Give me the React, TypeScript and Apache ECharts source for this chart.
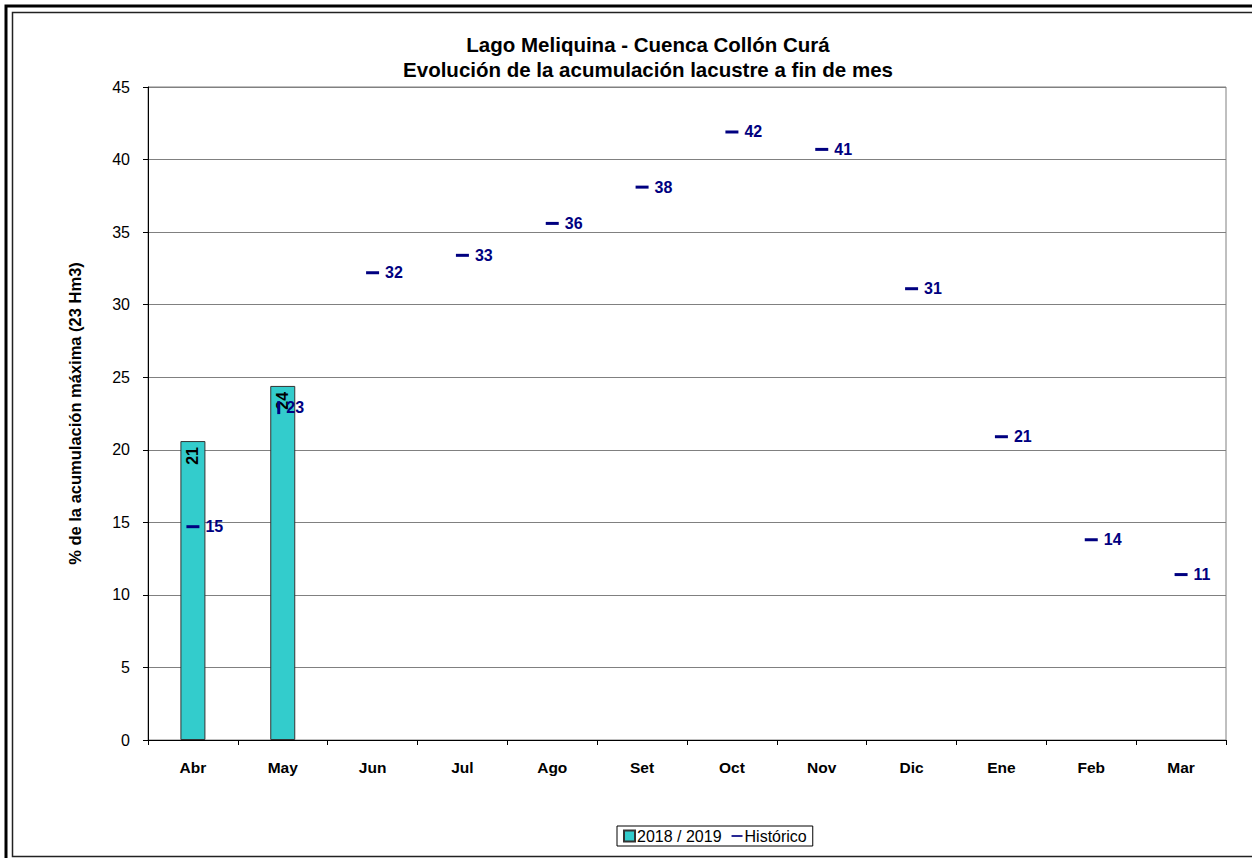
import React, { useEffect, useRef } from "react";
import * as echarts from "echarts";

const categories = ["Abr", "May", "Jun", "Jul", "Ago", "Set", "Oct", "Nov", "Dic", "Ene", "Feb", "Mar"];
const season20182019: (number | null)[] = [20.6, 24.4, null, null, null, null, null, null, null, null, null, null];
const historico: number[] = [14.7, 22.7, 32.2, 33.4, 35.6, 38.1, 41.9, 40.7, 31.1, 20.9, 13.8, 11.4];
const yTicks = { min: 0, max: 45, interval: 5 };
const titleLines = ["Lago Meliquina - Cuenca Collón Curá", "Evolución de la acumulación lacustre a fin de mes"];
const yAxisName = "% de la acumulación máxima (23 Hm3)";
const seriesNames = ["2018 / 2019", "Histórico"];

const FONT = "'Liberation Sans', Arial, Helvetica, sans-serif";
const NAVY = "#000080";

export default function App() {
  const ref = useRef<HTMLDivElement>(null);
  useEffect(() => {
    if (!ref.current) return;
    const chart = echarts.init(ref.current, undefined, { renderer: "svg" });
    chart.setOption({
      animation: false,
      backgroundColor: "#ffffff",
      textStyle: { fontFamily: FONT },
      graphic: [
        {
          type: "rect",
          shape: { x: 6, y: 6, width: 1262, height: 870 },
          style: { fill: "none", stroke: "#000", lineWidth: 3 },
          silent: true,
        },
        {
          type: "rect",
          shape: { x: 12.5, y: 12.5, width: 1260, height: 844 },
          style: { fill: "none", stroke: "#222", lineWidth: 1.5 },
          silent: true,
        },
        {
          type: "text",
          x: 648,
          y: 32,
          style: {
            text: titleLines.join("\n"),
            font: `bold 20.5px ${FONT}`,
            fill: "#000",
            textAlign: "center",
            textVerticalAlign: "top",
            lineHeight: 25,
          },
          silent: true,
        },
      ],
      grid: {
        left: 148,
        right: 1252 - 1226,
        top: 87,
        bottom: 858 - 740,
        show: true,
        borderColor: "#808080",
        borderWidth: 1,
        containLabel: false,
      },
      legend: {
        left: 617,
        top: 826,
        orient: "horizontal",
        borderColor: "#000",
        borderWidth: 1,
        padding: [2, 6, 2, 6],
        itemGap: 10,
        itemWidth: 11,
        itemHeight: 11,
        textStyle: { fontFamily: FONT, fontSize: 16, color: "#000", padding: [0, 0, 0, -3] },
        data: [
          { name: seriesNames[0], icon: "rect" },
          {
            name: seriesNames[1],
            icon: "path://M0,0L0,0M0,4.5L13,4.5L13,6.5L0,6.5ZM0,11L0,11",
          },
        ],
      },
      xAxis: {
        type: "category",
        data: categories,
        axisLine: { lineStyle: { color: "#000", width: 1 } },
        axisTick: { show: true, alignWithLabel: false, length: 5, lineStyle: { color: "#000" } },
        axisLabel: { fontFamily: FONT, fontSize: 15.5, fontWeight: "bold", color: "#000", margin: 19 },
        splitLine: { show: false },
      },
      yAxis: {
        type: "value",
        min: yTicks.min,
        max: yTicks.max,
        interval: yTicks.interval,
        name: yAxisName,
        nameLocation: "middle",
        nameGap: 65,
        nameTextStyle: { fontFamily: FONT, fontSize: 16.5, fontWeight: "bold", color: "#000" },
        axisLine: { show: true, lineStyle: { color: "#000", width: 1 } },
        axisTick: { show: true, length: 5, lineStyle: { color: "#000" } },
        axisLabel: { fontFamily: FONT, fontSize: 16, color: "#000", margin: 18 },
        splitLine: { show: true, lineStyle: { color: "#808080", width: 1 } },
      },
      series: [
        {
          name: seriesNames[0],
          type: "bar",
          data: season20182019,
          barWidth: 25,
          itemStyle: { color: "#33CCCC", borderColor: "#333", borderWidth: 1 },
          label: {
            show: true,
            position: "insideTop",
            rotate: 90,
            align: "right",
            verticalAlign: "middle",
            distance: 6,
            fontFamily: FONT,
            fontSize: 16,
            fontWeight: "bold",
            color: "#000",
            formatter: (p: any) => String(Math.round(p.value)),
          },
          z: 2,
        },
        {
          name: seriesNames[1],
          type: "scatter",
          data: historico.map((v, i) =>
            i === 1
              ? { value: v, symbolRotate: 90, symbolOffset: [-4, -3] }
              : { value: v }
          ),
          symbol: "rect",
          symbolSize: [13, 3],
          itemStyle: { color: NAVY, opacity: 1 },
          label: {
            show: true,
            position: "right",
            distance: 6,
            fontFamily: FONT,
            fontSize: 16,
            fontWeight: "bold",
            color: NAVY,
            formatter: (p: any) => String(Math.round(p.value)),
          },
          z: 3,
        },
      ],
    });
    return () => chart.dispose();
  }, []);
  return (
    <div
      ref={ref}
      style={{ position: "fixed", left: 0, top: 0, width: 1252, height: 858, background: "#fff" }}
    />
  );
}
